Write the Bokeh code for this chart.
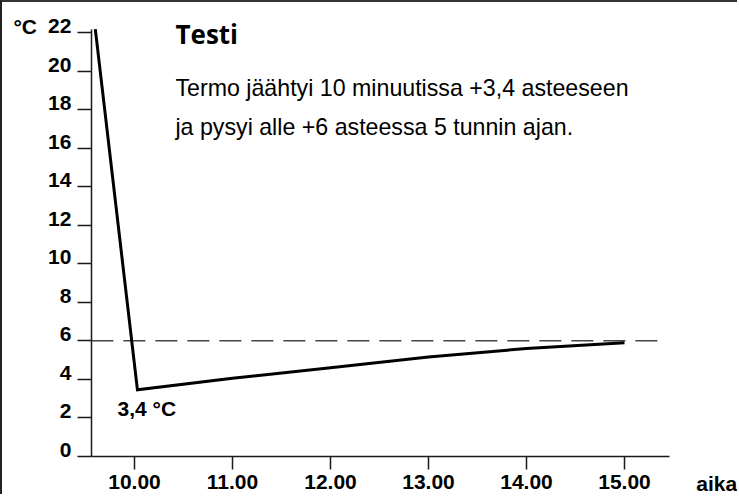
from bokeh.plotting import figure
from bokeh.models import Label, FixedTicker, ColumnDataSource
from bokeh.core.properties import value
from bokeh.embed import file_html
from bokeh.resources import INLINE

# ---- data ----
time_h = [9.60, 10.03, 11.0, 12.0, 13.0, 14.0, 15.0]
temp_c = [22.2, 3.45, 4.05, 4.6, 5.15, 5.6, 5.9]
x_ticks = [10, 11, 12, 13, 14, 15]
x_tick_labels = ["10.00", "11.00", "12.00", "13.00", "14.00", "15.00"]
y_ticks = [0, 2, 4, 6, 8, 10, 12, 14, 16, 18, 20, 22]
y_tick_labels = ["0", "2", "4", "6", "8", "10", "12", "14", "16", "18", "20", "22"]
limit_c = [6, 6]
limit_time = [9.56, 15.37]
axis_x_bounds = (9.56, 15.46)
axis_y_bounds = (0, 22.18)
min_temp_text = "3,4 °C"
title_text = "Testi"
body_lines = ["Termo jäähtyi 10 minuutissa +3,4 asteeseen",
              "ja pysyi alle +6 asteessa 5 tunnin ajan."]
unit_text = "°C"
x_name = "aika"

BOLD_FONT = "'Liberation Sans', Arial, sans-serif"
INK = "#1a1a1a"

p = figure(width=737, height=494, x_range=(8.6531, 16.1735), y_range=(-2.0946, 23.581),
           output_backend="svg", toolbar_location=None,
           min_border_left=0, min_border_right=0, min_border_top=0, min_border_bottom=0)
p.styles = {"border-left": "2px solid #222", "border-top": "2px solid #333"}
p.grid.visible = False
p.outline_line_color = None
p.background_fill_color = "white"
p.border_fill_color = "white"

# axes drawn at fixed data positions inside the frame
xa, ya = p.xaxis[0], p.yaxis[0]
for ax in (xa, ya):
    ax.axis_line_color = INK
    ax.axis_line_width = 1.5
    ax.major_tick_line_color = INK
    ax.major_tick_line_width = 1.5
    ax.major_tick_in = 0
    ax.minor_tick_line_color = None

xa.fixed_location = 0
xa.bounds = axis_x_bounds
xa.ticker = FixedTicker(ticks=x_ticks)
xa.major_label_overrides = {t: l for t, l in zip(x_ticks, x_tick_labels)}
xa.major_tick_out = 13
xa.major_label_standoff = 6
xa.major_label_text_font = BOLD_FONT
xa.major_label_text_font_style = "bold"
xa.major_label_text_font_size = "21px"
xa.major_label_text_color = "black"

ya.fixed_location = axis_x_bounds[0]
ya.bounds = axis_y_bounds
ya.ticker = FixedTicker(ticks=y_ticks)
ya.major_tick_out = 14
ya.major_label_text_font_size = "0px"
ya.major_label_text_color = None

# y tick labels sitting on their ticks (baseline on the tick)
ysrc = ColumnDataSource(dict(x=[axis_x_bounds[0]] * len(y_ticks), y=y_ticks, t=y_tick_labels))
p.text(x="x", y="y", text="t", source=ysrc, x_offset=-20, y_offset=-6.5,
       text_align="right", text_baseline="middle",
       text_font=value(BOLD_FONT), text_font_style="bold", text_font_size="21px",
       text_color="black")

# threshold dashed line
p.line(limit_time, limit_c, line_color="#444444", line_width=1.6, line_dash="22 10")

# temperature curve
p.line(time_h, temp_c, line_color="black", line_width=3, line_join="miter")

# texts
def add_label(x, y, text, font, size, bold=False, align="left"):
    p.add_layout(Label(x=x, y=y, text=text, text_font=font,
                       text_font_style="bold" if bold else "normal",
                       text_font_size=size, text_color="black",
                       text_baseline="middle", text_align=align))

add_label(10.418, 21.94, title_text, "'Open Sans', 'DejaVu Sans', sans-serif", "26px", bold=True)
add_label(10.418, 19.14, body_lines[0], "'Liberation Sans', sans-serif", "23.2px")
add_label(10.418, 17.11, body_lines[1], "'Liberation Sans', sans-serif", "23.2px")
add_label(9.827, 2.48, min_temp_text, BOLD_FONT, "21px", bold=True)
add_label(8.765, 22.32, unit_text, BOLD_FONT, "21px", bold=True)
add_label(16.15, -1.42, x_name, BOLD_FONT, "21px", bold=True, align="right")

open("out.html", "w").write(file_html(p, INLINE))
